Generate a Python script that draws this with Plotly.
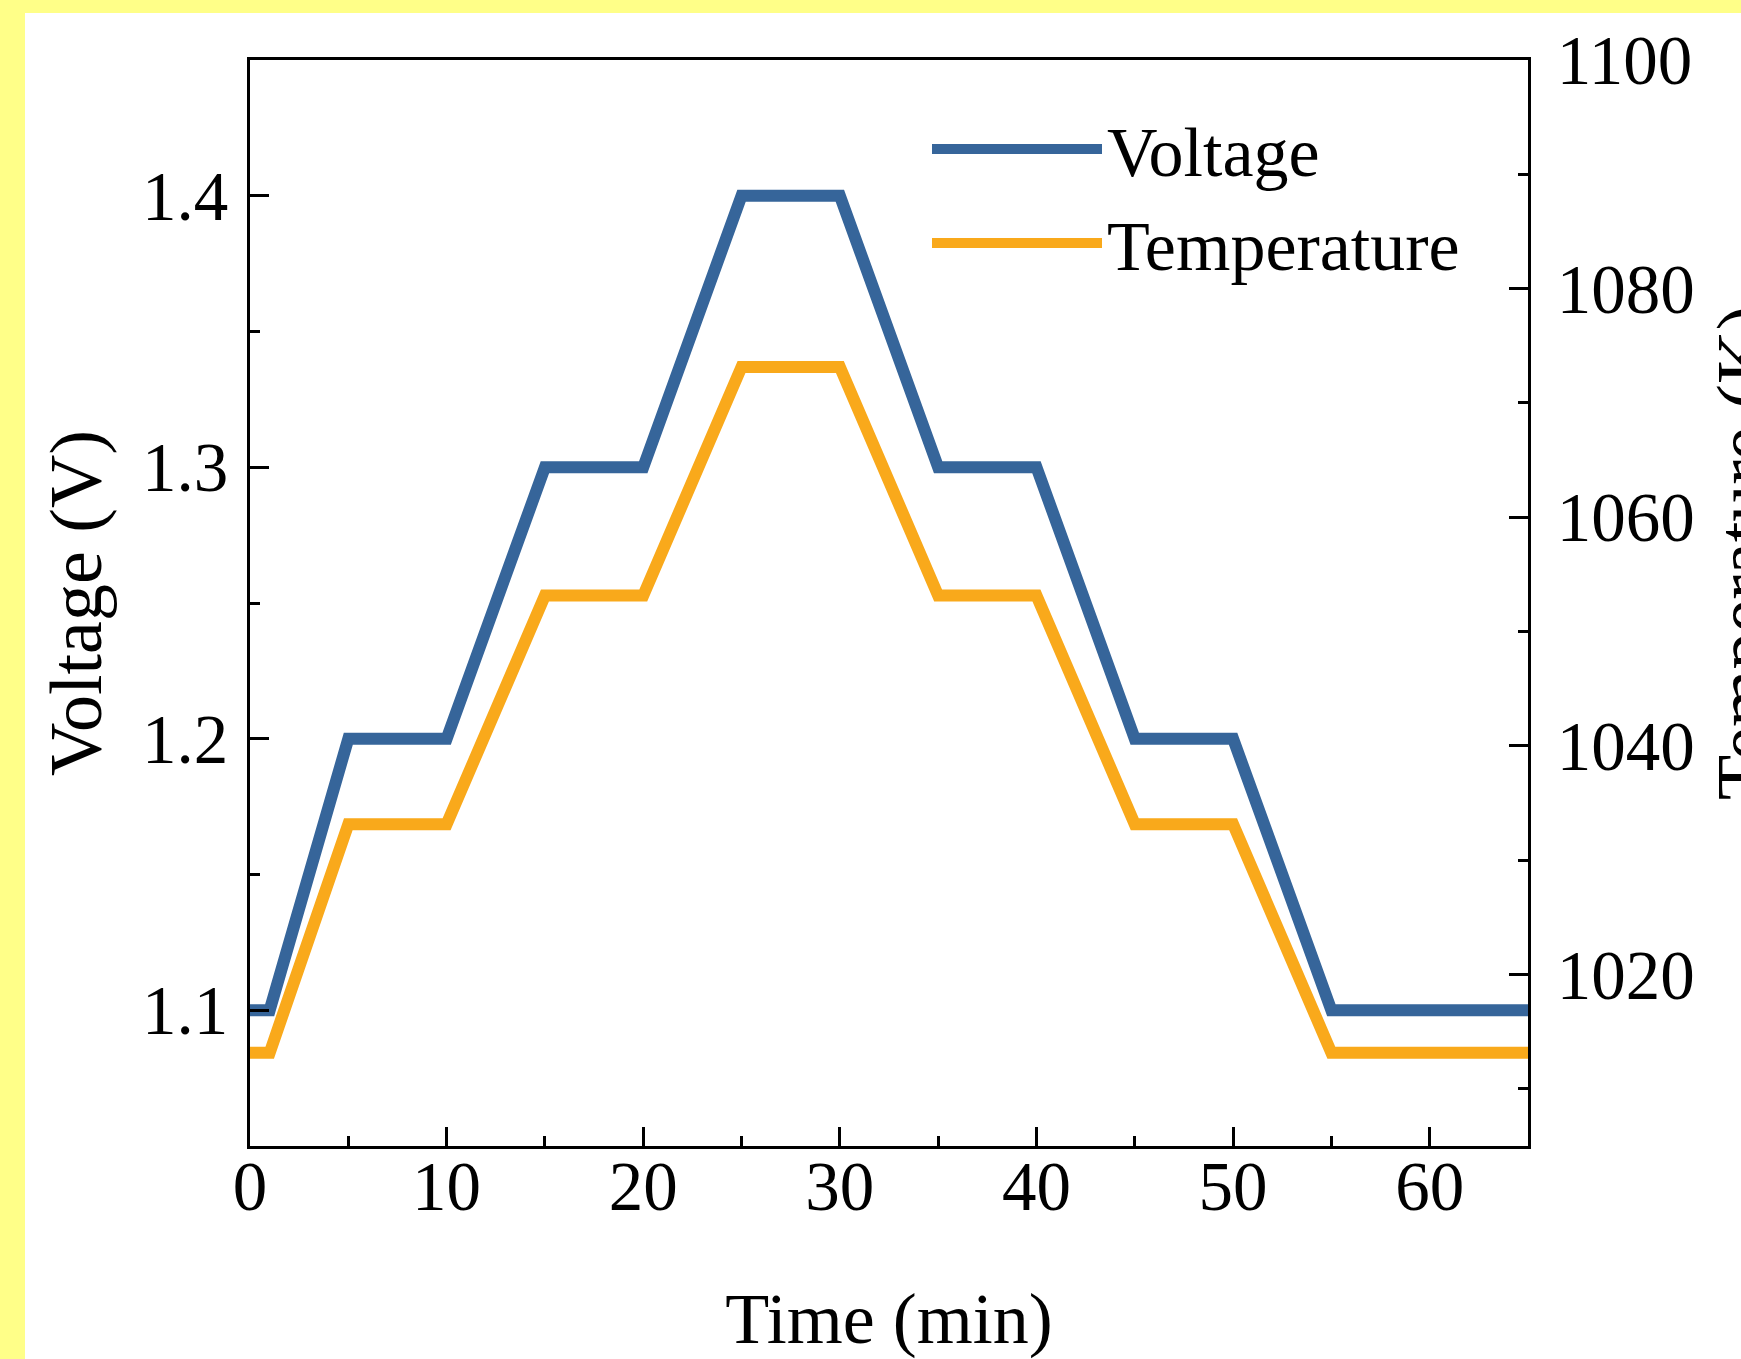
import plotly.graph_objects as go

# ---- data ----
time_min = [0, 1, 5, 10, 15, 20, 25, 30, 35, 40, 45, 50, 55, 65]
voltage_v = [1.1, 1.1, 1.2, 1.2, 1.3, 1.3, 1.4, 1.4, 1.3, 1.3, 1.2, 1.2, 1.1, 1.1]
temperature_k = [1013.15, 1013.15, 1033.15, 1033.15, 1053.15, 1053.15, 1073.15,
                 1073.15, 1053.15, 1053.15, 1033.15, 1033.15, 1013.15, 1013.15]

x_ticks = [0, 10, 20, 30, 40, 50, 60]
v_ticks = [1.1, 1.2, 1.3, 1.4]
t_ticks = [1020, 1040, 1060, 1080, 1100]

BLUE = "#36659a"
ORANGE = "#f9a91b"
FONT = "Liberation Serif, Times New Roman, serif"

fig = go.Figure()
fig.add_trace(go.Scatter(x=time_min, y=voltage_v, name="Voltage", mode="lines",
                         line=dict(color=BLUE, width=12), yaxis="y"))
fig.add_trace(go.Scatter(x=time_min, y=temperature_k, name="Temperature", mode="lines",
                         line=dict(color=ORANGE, width=12), yaxis="y2"))

W, H = 1741, 1359
L, R, T, B = 250, 213, 60, 213
pw, ph = W - L - R, H - T - B

fig.update_layout(
    template="none",
    width=W, height=H,
    margin=dict(l=L, r=R, t=T, b=B, pad=0, autoexpand=False),
    paper_bgcolor="#ffff88",
    plot_bgcolor="white",
    font=dict(family=FONT, size=69, color="black"),
    showlegend=True,
    legend=dict(
        x=(927 - L) / pw, y=(1146 - 97) / ph, xanchor="left", yanchor="top",
        bgcolor="rgba(0,0,0,0)", font=dict(family=FONT, size=70),
        itemwidth=170, tracegroupgap=0,
    ),
    xaxis=dict(
        range=[0, 65], tickvals=x_ticks, ticks="inside", ticklen=19, tickwidth=3,
        tickcolor="black", showline=True, linecolor="black", linewidth=3, mirror=True,
        showgrid=False, zeroline=False, ticklabelstandoff=-22, automargin=False,
        minor=dict(dtick=5, tick0=0, ticks="inside", ticklen=10, tickwidth=3, tickcolor="black", showgrid=False),
        title=dict(text="Time (min)", font=dict(family=FONT, size=72), standoff=104),
    ),
    yaxis=dict(
        range=[1.05, 1.45], tickvals=v_ticks, ticktext=[str(v) for v in v_ticks],
        ticks="inside", ticklen=19, tickwidth=3,
        tickcolor="black", showline=True, linecolor="black", linewidth=3, mirror=False,
        showgrid=False, zeroline=False, ticklabelstandoff=5, automargin=False,
        minor=dict(dtick=0.05, tick0=1.05, ticks="inside", ticklen=10, tickwidth=3, tickcolor="black", showgrid=False),
        title=dict(text="Voltage (V)", font=dict(family=FONT, size=74), standoff=17),
    ),
    yaxis2=dict(
        range=[1005, 1100], tickvals=t_ticks, overlaying="y", side="right",
        ticks="inside", ticklen=19, tickwidth=3,
        tickcolor="black", showline=True, linecolor="black", linewidth=3,
        showgrid=False, zeroline=False, ticklabelstandoff=12, automargin=False,
        minor=dict(dtick=10, tick0=1000, ticks="inside", ticklen=10, tickwidth=3, tickcolor="black", showgrid=False),
    ),
    annotations=[dict(text="Temperature (K)", xref="paper", yref="paper",
                      x=(1743 - L) / pw, y=(1146 - 553) / ph, xanchor="center", yanchor="middle",
                      textangle=-90, showarrow=False, font=dict(family=FONT, size=74, color="black"))],
    shapes=[dict(type="rect", xref="paper", yref="paper", layer="below",
                 x0=(25 - L) / pw, x1=1.6, y0=-0.6, y1=(1146 - 13) / ph,
                 fillcolor="white", line=dict(width=0))],
)

fig.write_html("out.html", config={"displayModeBar": False},
               post_script="document.body.style.margin='0';document.body.style.overflow='hidden';")
